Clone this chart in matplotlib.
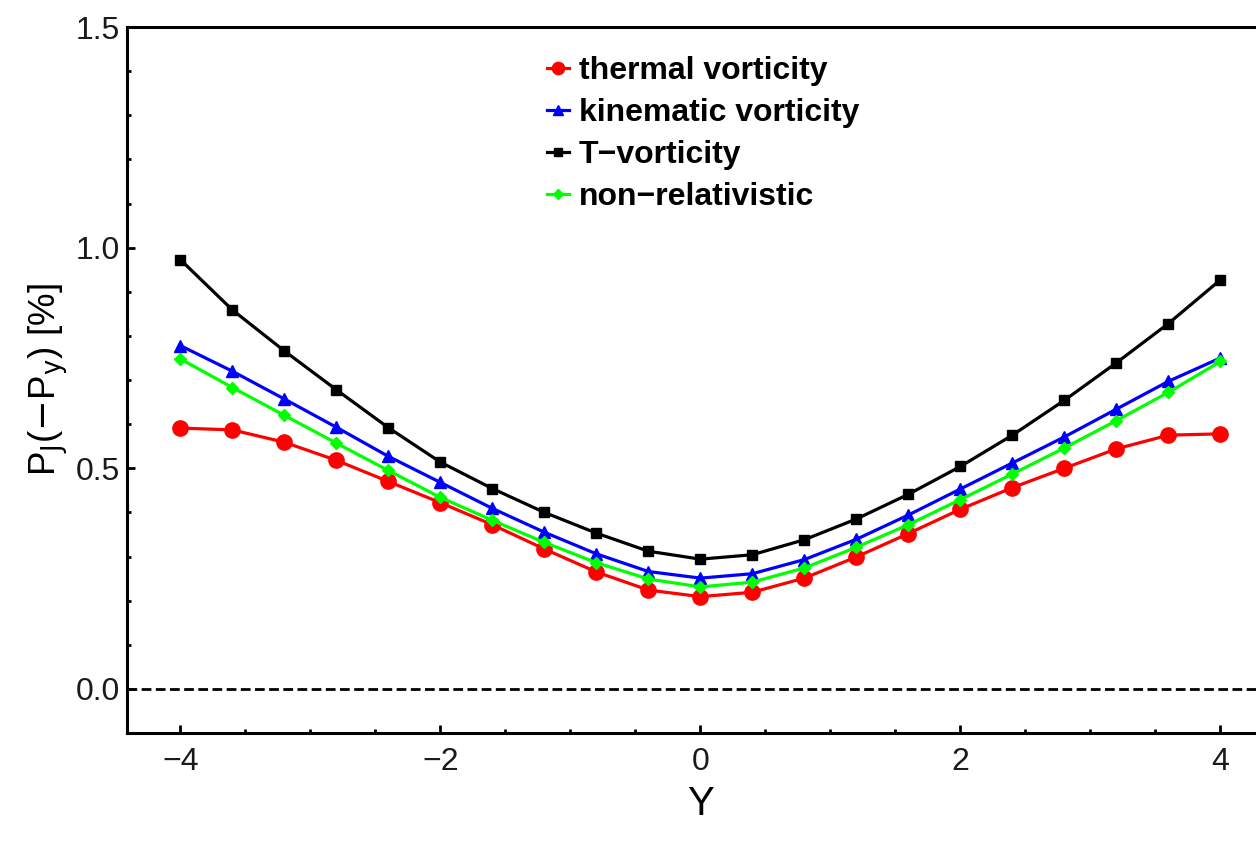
import numpy as np
import matplotlib
matplotlib.use("Agg")
import matplotlib.pyplot as plt
from matplotlib.ticker import MultipleLocator

plt.rcParams['font.family'] = ['Liberation Sans', 'DejaVu Sans']

# rapidity values
Y = [-4.0, -3.6, -3.2, -2.8, -2.4, -2.0, -1.6, -1.2, -0.8, -0.4, 0.0,
     0.4, 0.8, 1.2, 1.6, 2.0, 2.4, 2.8, 3.2, 3.6, 4.0]

thermal = [0.591, 0.587, 0.559, 0.518, 0.470, 0.422, 0.372, 0.317, 0.265, 0.224, 0.209,
           0.219, 0.251, 0.299, 0.352, 0.407, 0.456, 0.500, 0.544, 0.575, 0.578]
kinematic = [0.778, 0.720, 0.657, 0.593, 0.527, 0.468, 0.409, 0.355, 0.306, 0.266, 0.251,
             0.261, 0.293, 0.339, 0.394, 0.453, 0.512, 0.571, 0.634, 0.697, 0.750]
t_vort = [0.973, 0.859, 0.766, 0.678, 0.592, 0.514, 0.454, 0.400, 0.353, 0.312, 0.294,
          0.304, 0.338, 0.385, 0.441, 0.504, 0.575, 0.654, 0.739, 0.828, 0.927]
nonrel = [0.748, 0.683, 0.620, 0.557, 0.495, 0.434, 0.382, 0.332, 0.286, 0.249, 0.231,
          0.242, 0.274, 0.321, 0.372, 0.429, 0.487, 0.546, 0.608, 0.672, 0.742]

fig = plt.figure(figsize=(12.56, 8.47), dpi=100)
ax = fig.add_axes([0.1011, 0.1346, 0.913, 0.8335])

ax.axhline(0.0, color='black', lw=2, ls=(0, (3.5, 1.6)))

lw = 2.3
ax.plot(Y, thermal, color='#ff0000', lw=lw, marker='o', ms=11, label='thermal vorticity')
ax.plot(Y, kinematic, color='#0000ff', lw=lw, marker='^', ms=9, label='kinematic vorticity')
ax.plot(Y, t_vort, color='black', lw=lw, marker='s', ms=7, label='T\u2212vorticity')
ax.plot(Y, nonrel, color='#00ff00', lw=lw, marker='D', ms=6.5, label='non\u2212relativistic')

ax.set_xlim(-4.41, 4.41)
ax.set_ylim(-0.1, 1.5)

ax.xaxis.set_major_locator(MultipleLocator(2))
ax.xaxis.set_minor_locator(MultipleLocator(0.5))
ax.yaxis.set_major_locator(MultipleLocator(0.5))
ax.yaxis.set_minor_locator(MultipleLocator(0.1))
ax.xaxis.set_major_formatter(lambda v, p: f"{v:.0f}".replace('-', '\u2212'))
ax.yaxis.set_major_formatter(lambda v, p: f"{v:.1f}")

for s in ax.spines.values():
    s.set_linewidth(2.2)
ax.spines['right'].set_visible(False)

ax.tick_params(which='both', direction='in', top=False, right=False, labelsize=23,
               width=2, labelcolor='#1a1a1a')
ax.tick_params(which='major', length=6)
ax.tick_params(axis='y', which='major', pad=5)
ax.tick_params(axis='x', which='major', pad=10)
ax.tick_params(which='minor', length=3)

ax.set_xlabel('Y', fontsize=29, labelpad=6)
ax.set_ylabel(r'P$_\mathrm{J}$($-$P$_\mathrm{y}$) [%]', fontsize=26.5, labelpad=4)

ax.legend(loc='upper left', bbox_to_anchor=(0.366, 0.959), frameon=False,
          prop={'weight': 'bold', 'size': 23}, handlelength=0.7, handletextpad=0.3,
          labelspacing=0.38, borderpad=0, borderaxespad=0, markerscale=0.8)

fig.savefig('out.png', dpi=100)
